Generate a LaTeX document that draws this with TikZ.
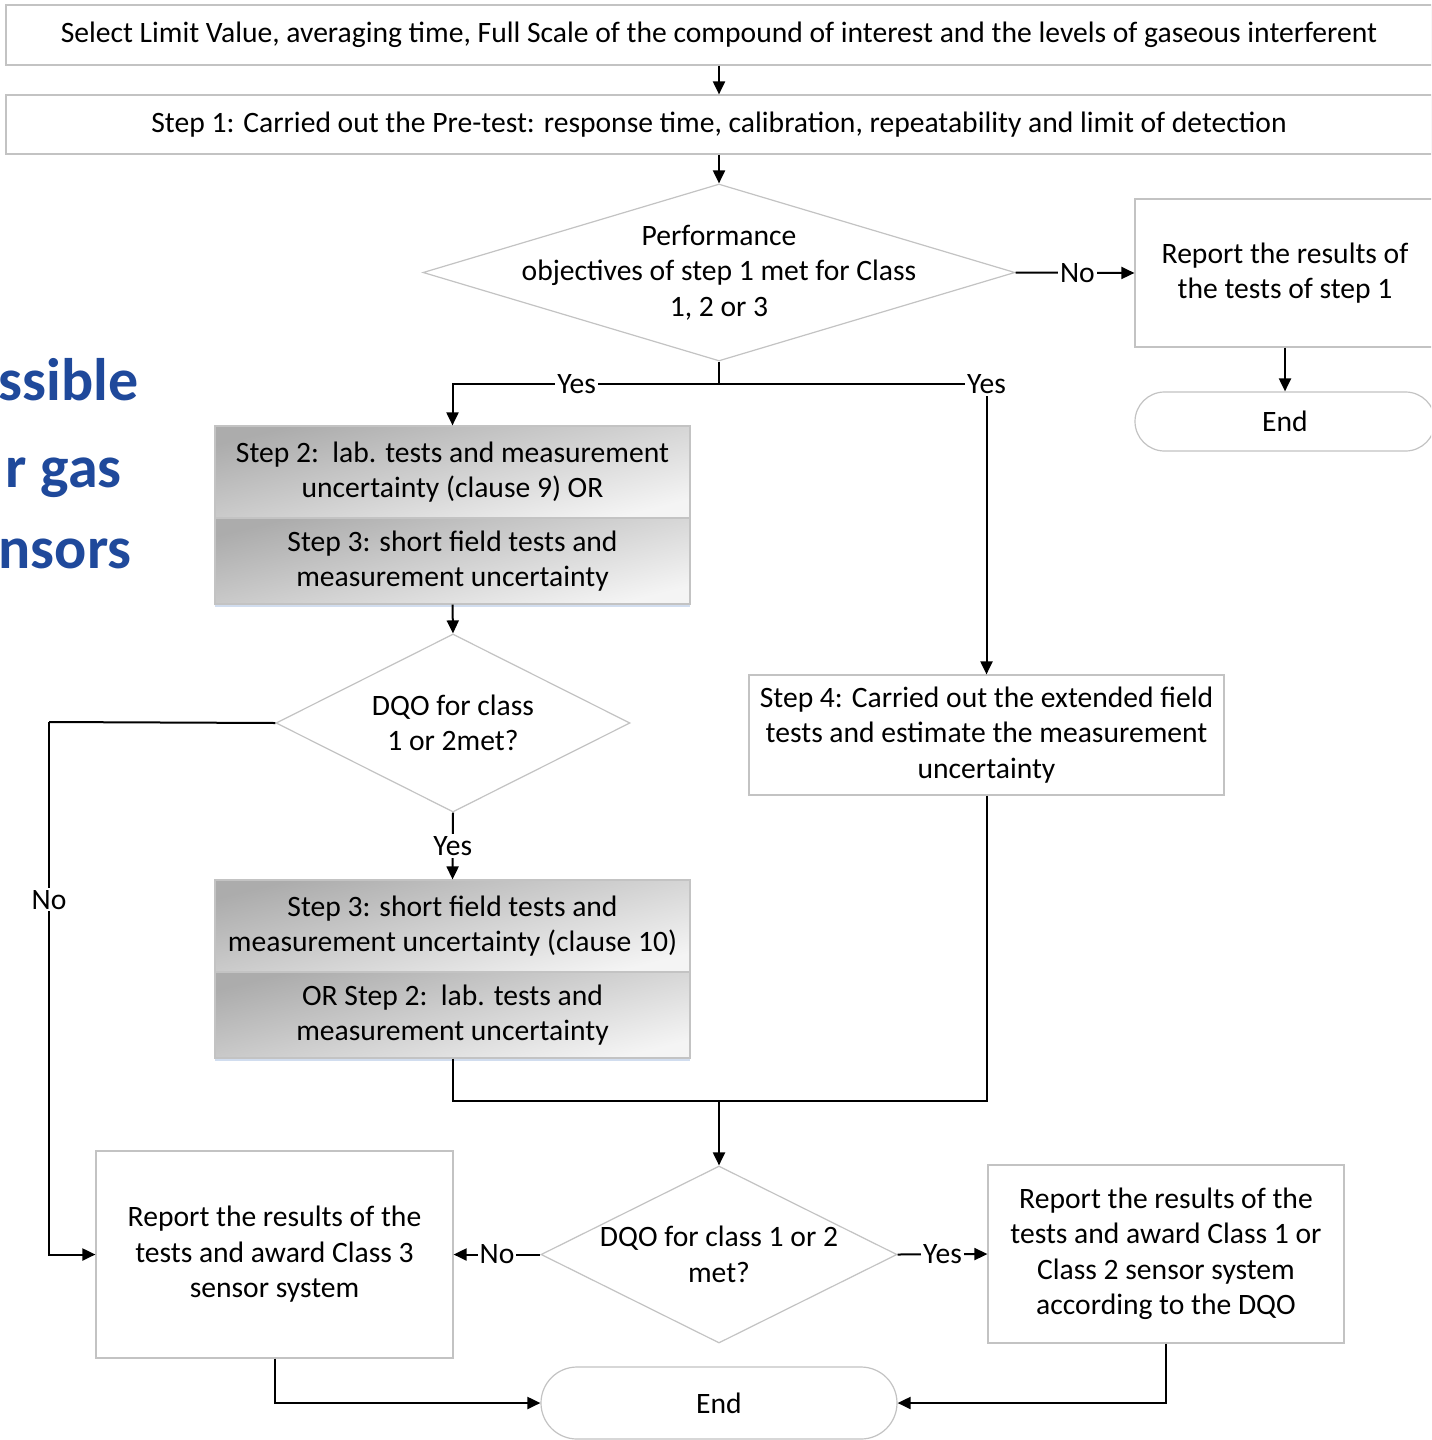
\documentclass[tikz,border=0pt]{standalone}
\usepackage{fontspec}
\setmainfont{Carlito}
\usetikzlibrary{shapes.geometric,arrows.meta,shadows}
\newcommand\pxu[1]{#1*0.5pt}
\newcommand\mainfs{\fontsize{14.8pt}{17.75pt}\selectfont}
\definecolor{bord}{RGB}{195,195,195}
\definecolor{titleblue}{RGB}{31,73,155}
\definecolor{shadeA}{RGB}{172,172,172}
\definecolor{shadeM}{RGB}{225,225,225}
\definecolor{shadeB}{RGB}{244,244,244}
\definecolor{glow}{RGB}{205,218,238}
\tikzset{
  base/.style={draw=bord, line width=0.6pt, align=center, inner sep=0pt, font=\mainfs},
  plainbox/.style={base, rectangle, fill=white},
  gradbox/.style={base, rectangle, shading=axis, top color=shadeA, middle color=shadeM, bottom color=shadeB, shading angle=14},
  dia/.style={base, diamond, fill=white},
  dtext/.style={align=center, font=\mainfs, inner sep=0pt},
  term/.style={base, rectangle, fill=white},
  arr/.style={-{Triangle[length=6.5pt,width=6pt]}, line width=1pt},
  ln/.style={line width=1pt},
  lab/.style={fill=white, inner sep=1pt, font=\mainfs},
  bigt/.style={anchor=base east, inner sep=0pt, text=titleblue, font=\fontsize{30pt}{36pt}\selectfont\bfseries}
}
\begin{document}
\begin{tikzpicture}[x=0.5pt,y=-0.5pt]
\useasboundingbox (0,0) rectangle (1431,1440);
\clip (0,0) rectangle (1431,1440);
\fill[white] (0,0) rectangle (1431,1440);

% left title fragments
\node[bigt] (t1) at (139,400) {ssible};
\node[bigt] (t2) at (122,487) {r gas};
\node[bigt] (t3) at (132,568) {nsors};

% top boxes
\node[plainbox, minimum width=\pxu{1426}, minimum height=\pxu{60}] (top) at (719,35)
  {Select Limit Value, averaging time, Full Scale of the compound of interest and the levels of gaseous interferent};
\node[plainbox, minimum width=\pxu{1426}, minimum height=\pxu{59}] (s1) at (719,124.5)
  {Step 1: Carried out the Pre-test: response time, calibration, repeatability and limit of detection};

% decision 1
\node[dia, minimum width=\pxu{592}, minimum height=\pxu{177},
  label={[dtext]center:Performance\\objectives of step 1 met for Class\\1, 2 or 3}] (d1) at (719,272.5) {};
\node[plainbox, minimum width=\pxu{300}, minimum height=\pxu{148}] (rep1) at (1285,273)
  {Report the results of\\the tests of step 1};
\node[term, rounded corners=14.75pt, minimum width=\pxu{300}, minimum height=\pxu{59}] (end1) at (1285,421.5) {End};

% step 2/3 box
\node[gradbox, minimum width=\pxu{475}, minimum height=\pxu{92}] (s23a) at (452.5,472)
  {Step 2:\ \ lab. tests and measurement\\uncertainty (clause 9) OR};
\node[gradbox, minimum width=\pxu{475}, minimum height=\pxu{86},
  drop shadow={shadow xshift=0pt, shadow yshift=-1.5pt, fill=glow, opacity=0.9}] (s23b) at (452.5,561)
  {Step 3: short field tests and\\measurement uncertainty};

% decision 2
\node[dia, minimum width=\pxu{354}, minimum height=\pxu{178},
  label={[dtext]center:DQO for class\\1 or 2met?}] (d2) at (453,723) {};

% step 3/2 box
\node[gradbox, minimum width=\pxu{475}, minimum height=\pxu{92}] (s32a) at (452.5,926)
  {Step 3: short field tests and\\measurement uncertainty (clause 10)};
\node[gradbox, minimum width=\pxu{475}, minimum height=\pxu{86},
  drop shadow={shadow xshift=0pt, shadow yshift=-1.5pt, fill=glow, opacity=0.9}] (s32b) at (452.5,1015)
  {OR Step 2:\ \ lab. tests and\\measurement uncertainty};

% step 4
\node[plainbox, minimum width=\pxu{475}, minimum height=\pxu{120}] (s4) at (986.5,735)
  {Step 4: Carried out the extended field\\tests and estimate the measurement\\uncertainty};

% decision 3
\node[dia, minimum width=\pxu{356}, minimum height=\pxu{177},
  label={[dtext]center:DQO for class 1 or 2\\met?}] (d3) at (719,1254.5) {};
\node[plainbox, minimum width=\pxu{357}, minimum height=\pxu{207}] (rep3) at (274.5,1254.5)
  {Report the results of the\\tests and award Class 3\\sensor system};
\node[plainbox, minimum width=\pxu{356}, minimum height=\pxu{178}] (rep12) at (1166,1254)
  {Report the results of the\\tests and award Class 1 or\\Class 2 sensor system\\according to the DQO};
\node[term, rounded corners=18pt, minimum width=\pxu{356}, minimum height=\pxu{72}] (end2) at (719,1403) {End};

% junction coordinates
\coordinate (j1) at (719,384);
\coordinate (kL) at (49,722);
\coordinate (j2) at (719,1101);

% connectors
\draw[arr] (top.south) -- (s1.north);
\draw[arr] (s1.south) -- (d1.north);
\draw[arr] (d1.east) -- node[lab, pos=0.52] {No} (rep1.west);
\draw[arr] (rep1.south) -- (end1.north);
\draw[ln] (d1.south) -- (j1);
\draw[arr] (j1) -| node[lab, pos=0.267] {Yes} (s23a.north);
\draw[arr] (j1) -| node[lab, pos=0.5] {Yes} (s4.north);
\draw[arr] (s23b.south) -- (d2.north);
\draw[arr] (d2.south) -- node[lab, pos=0.5] {Yes} (s32a.north);
\draw[ln] (d2.west) -- (kL);
\draw[arr] (kL) |- node[lab, pos=0.167] {No} (rep3.west);
\draw[ln] (s32b.south) |- (j2);
\draw[ln] (s4.south) |- (j2);
\draw[arr] (j2) -- (d3.north);
\draw[arr] (d3.west) -- node[lab, pos=0.5] {No} (rep3.east);
\draw[arr] (d3.east) -- node[lab, pos=0.5] {Yes} (rep12.west);
\draw[arr] (rep3.south) |- (end2.west);
\draw[arr] (rep12.south) |- (end2.east);
\end{tikzpicture}
\end{document}
